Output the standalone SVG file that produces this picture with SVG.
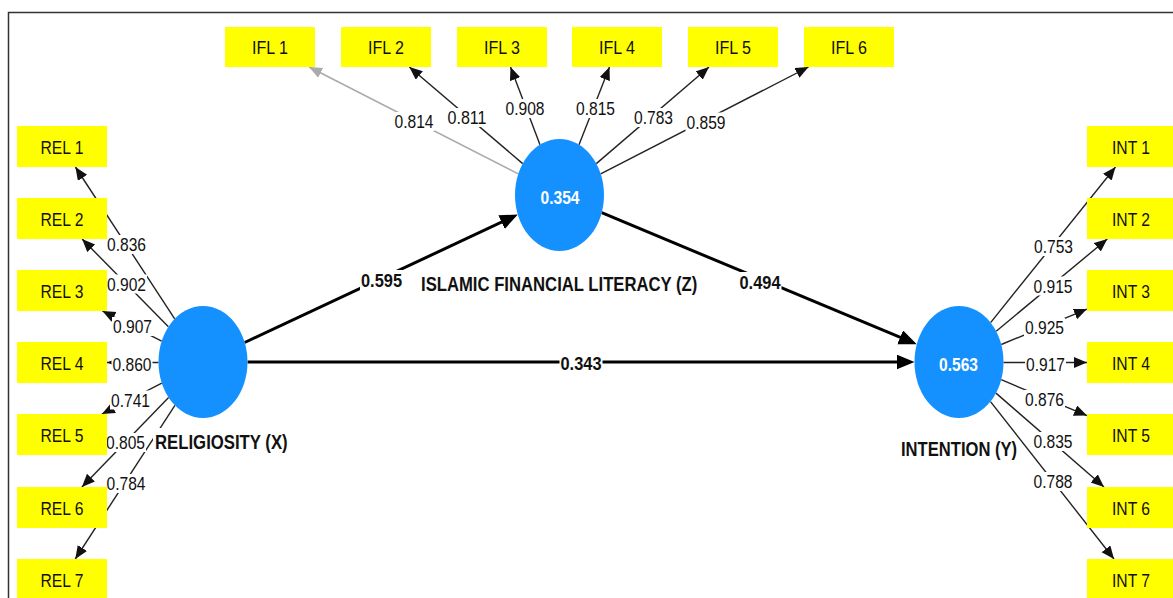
<svg xmlns="http://www.w3.org/2000/svg" width="1173" height="598" viewBox="0 0 1173 598">
<style>
text{font-family:"Liberation Sans",Arial,sans-serif;font-size:19px;fill:#111}
.box{fill:#ffff00}
.lat{fill:#1590ff}
.bt{text-anchor:middle}
.lv{text-anchor:middle;fill:#fff;font-weight:bold}
.cn{font-weight:bold;font-size:20px}
.ld{stroke:#222;stroke-width:1.4;fill:none;marker-end:url(#a)}
.ldg{stroke:#aaa;stroke-width:1.6;fill:none;marker-end:url(#ag)}
.pt{stroke:#000;stroke-width:3;fill:none;marker-end:url(#ab)}
.lb{text-anchor:middle}
.pl{text-anchor:middle;font-weight:bold}
.bg{fill:#fff}
</style>
<defs>
<marker id="a" markerUnits="userSpaceOnUse" markerWidth="14" markerHeight="12" refX="13" refY="5.5" orient="auto"><path d="M0,0 L13,5.5 L0,11 z" fill="#111"/></marker>
<marker id="ag" markerUnits="userSpaceOnUse" markerWidth="14" markerHeight="12" refX="13" refY="5.5" orient="auto"><path d="M0,0 L13,5.5 L0,11 z" fill="#aaa"/></marker>
<marker id="ab" markerUnits="userSpaceOnUse" markerWidth="20" markerHeight="16" refX="10" refY="7.5" orient="auto"><path d="M0,0 L18,7.5 L0,15 z" fill="#000"/></marker>
</defs>
<rect width="1173" height="598" fill="#fff"/>
<path d="M8.5,598 V12.5 H1173" fill="none" stroke="#333" stroke-width="1.5"/>

<g id="connectors">
<!-- REL loadings -->
<line class="ld" x1="174.7" y1="318.8" x2="75.4" y2="167"/>
<line class="ld" x1="168.4" y1="326.8" x2="82.1" y2="239"/>
<line class="ld" x1="161.7" y1="341.1" x2="102.4" y2="311"/>
<line class="ld" x1="158.5" y1="362.5" x2="107" y2="362.5"/>
<line class="ld" x1="161.8" y1="383.2" x2="101.9" y2="414"/>
<line class="ld" x1="168.6" y1="397.5" x2="81.9" y2="487"/>
<line class="ld" x1="174.9" y1="405.4" x2="75.3" y2="559"/>
<!-- IFL loadings -->
<line class="ldg" x1="518.3" y1="173.9" x2="309.1" y2="67"/>
<line class="ld" x1="522.7" y1="163.6" x2="409.4" y2="67"/>
<line class="ld" x1="540" y1="144.7" x2="510.5" y2="67"/>
<line class="ld" x1="579" y1="144.7" x2="609.5" y2="67"/>
<line class="ld" x1="596.3" y1="163.6" x2="709" y2="67"/>
<line class="ld" x1="600.7" y1="173.9" x2="808.5" y2="67"/>
<!-- INT loadings -->
<line class="ld" x1="990.6" y1="322.6" x2="1115.5" y2="167"/>
<line class="ld" x1="996.2" y1="331.2" x2="1107.3" y2="239"/>
<line class="ld" x1="1001.3" y1="344.5" x2="1087" y2="309.1"/>
<line class="ld" x1="1003.5" y1="362.5" x2="1087" y2="362.5"/>
<line class="ld" x1="1001.2" y1="379.7" x2="1087" y2="415.6"/>
<line class="ld" x1="996" y1="393.1" x2="1104" y2="487"/>
<line class="ld" x1="990.5" y1="401.6" x2="1114" y2="559"/>
<!-- structural paths -->
<line class="pt" x1="244.7" y1="342.5" x2="510.6" y2="217.9"/>
<line class="pt" x1="601.7" y1="212.7" x2="909.4" y2="341.2"/>
<line class="pt" x1="247.5" y1="362" x2="906.5" y2="362"/>
<!-- loading labels -->
<g>
<rect class="bg" x="106" y="235" width="41" height="19"/><text class="lb" x="126.5" y="251" textLength="39" lengthAdjust="spacingAndGlyphs">0.836</text>
<rect class="bg" x="106" y="274.5" width="41" height="19"/><text class="lb" x="126.5" y="290.5" textLength="39" lengthAdjust="spacingAndGlyphs">0.902</text>
<rect class="bg" x="112" y="317" width="41" height="19"/><text class="lb" x="132.5" y="333" textLength="39" lengthAdjust="spacingAndGlyphs">0.907</text>
<rect class="bg" x="111.5" y="354.5" width="41" height="19"/><text class="lb" x="132" y="370.5" textLength="39" lengthAdjust="spacingAndGlyphs">0.860</text>
<rect class="bg" x="110" y="390.5" width="41" height="19"/><text class="lb" x="130.5" y="406.5" textLength="39" lengthAdjust="spacingAndGlyphs">0.741</text>
<rect class="bg" x="105" y="433" width="41" height="19"/><text class="lb" x="125.5" y="449" textLength="39" lengthAdjust="spacingAndGlyphs">0.805</text>
<rect class="bg" x="105.5" y="474" width="41" height="19"/><text class="lb" x="126" y="490" textLength="39" lengthAdjust="spacingAndGlyphs">0.784</text>

<rect class="bg" x="393.5" y="112" width="41" height="19"/><text class="lb" x="414" y="128" textLength="39" lengthAdjust="spacingAndGlyphs">0.814</text>
<rect class="bg" x="446.5" y="108" width="41" height="19"/><text class="lb" x="467" y="124" textLength="39" lengthAdjust="spacingAndGlyphs">0.811</text>
<rect class="bg" x="504.5" y="99" width="41" height="19"/><text class="lb" x="525" y="115" textLength="39" lengthAdjust="spacingAndGlyphs">0.908</text>
<rect class="bg" x="575" y="99" width="41" height="19"/><text class="lb" x="595.5" y="115" textLength="39" lengthAdjust="spacingAndGlyphs">0.815</text>
<rect class="bg" x="633" y="108" width="41" height="19"/><text class="lb" x="653.5" y="124" textLength="39" lengthAdjust="spacingAndGlyphs">0.783</text>
<rect class="bg" x="685.5" y="112.5" width="41" height="19"/><text class="lb" x="706" y="128.5" textLength="39" lengthAdjust="spacingAndGlyphs">0.859</text>

<rect class="bg" x="1033" y="237" width="41" height="19"/><text class="lb" x="1053.5" y="253" textLength="39" lengthAdjust="spacingAndGlyphs">0.753</text>
<rect class="bg" x="1032.5" y="276.5" width="41" height="19"/><text class="lb" x="1053" y="292.5" textLength="39" lengthAdjust="spacingAndGlyphs">0.915</text>
<rect class="bg" x="1024" y="318" width="41" height="19"/><text class="lb" x="1044.5" y="334" textLength="39" lengthAdjust="spacingAndGlyphs">0.925</text>
<rect class="bg" x="1025" y="354.5" width="41" height="19"/><text class="lb" x="1045.5" y="370.5" textLength="39" lengthAdjust="spacingAndGlyphs">0.917</text>
<rect class="bg" x="1024" y="390" width="41" height="19"/><text class="lb" x="1044.5" y="406" textLength="39" lengthAdjust="spacingAndGlyphs">0.876</text>
<rect class="bg" x="1032.5" y="432" width="41" height="19"/><text class="lb" x="1053" y="448" textLength="39" lengthAdjust="spacingAndGlyphs">0.835</text>
<rect class="bg" x="1032.5" y="472" width="41" height="19"/><text class="lb" x="1053" y="488" textLength="39" lengthAdjust="spacingAndGlyphs">0.788</text>
</g>
<!-- path coefficient labels -->
<g>
<rect class="bg" x="360" y="270" width="43" height="20"/><text class="pl" x="381.5" y="287" textLength="41" lengthAdjust="spacingAndGlyphs">0.595</text>
<rect class="bg" x="738.5" y="272" width="43" height="20"/><text class="pl" x="760" y="289" textLength="41" lengthAdjust="spacingAndGlyphs">0.494</text>
<rect class="bg" x="559.5" y="352.5" width="43" height="20"/><text class="pl" x="581" y="369.5" textLength="41" lengthAdjust="spacingAndGlyphs">0.343</text>
</g>
</g>

<!-- latent constructs -->
<g id="religiosity">
<ellipse class="lat" cx="203" cy="362" rx="44.5" ry="56"/>
<rect class="bg" x="153" y="428" width="136" height="27"/>
<text class="cn" transform="translate(155,449) scale(0.837,1)">RELIGIOSITY (X)</text>
</g>
<g id="ifl">
<ellipse class="lat" cx="559.5" cy="195" rx="44.5" ry="56"/>
<text class="lv" x="560" y="204" textLength="39" lengthAdjust="spacingAndGlyphs">0.354</text>
<text class="cn" transform="translate(421,290.5) scale(0.834,1)">ISLAMIC FINANCIAL LITERACY (Z)</text>
</g>
<g id="intention">
<ellipse class="lat" cx="959" cy="362" rx="44.5" ry="56"/>
<text class="lv" x="958.5" y="370.5" textLength="39" lengthAdjust="spacingAndGlyphs">0.563</text>
<text class="cn" transform="translate(901,456) scale(0.83,1)">INTENTION (Y)</text>
</g>

<!-- REL indicators -->
<g id="rel1"><rect class="box" x="17" y="126" width="90" height="41"/><text class="bt" x="62" y="154.3" textLength="43" lengthAdjust="spacingAndGlyphs">REL 1</text></g>
<g id="rel2"><rect class="box" x="17" y="198" width="90" height="41"/><text class="bt" x="62" y="226.3" textLength="43" lengthAdjust="spacingAndGlyphs">REL 2</text></g>
<g id="rel3"><rect class="box" x="17" y="270" width="90" height="41"/><text class="bt" x="62" y="298.3" textLength="43" lengthAdjust="spacingAndGlyphs">REL 3</text></g>
<g id="rel4"><rect class="box" x="17" y="342" width="90" height="41"/><text class="bt" x="62" y="370.3" textLength="43" lengthAdjust="spacingAndGlyphs">REL 4</text></g>
<g id="rel5"><rect class="box" x="17" y="414" width="90" height="41"/><text class="bt" x="62" y="442.3" textLength="43" lengthAdjust="spacingAndGlyphs">REL 5</text></g>
<g id="rel6"><rect class="box" x="17" y="487" width="90" height="41"/><text class="bt" x="62" y="515.3" textLength="43" lengthAdjust="spacingAndGlyphs">REL 6</text></g>
<g id="rel7"><rect class="box" x="17" y="559" width="90" height="41"/><text class="bt" x="62" y="587" textLength="43" lengthAdjust="spacingAndGlyphs">REL 7</text></g>

<!-- IFL indicators -->
<g id="ifl1"><rect class="box" x="225" y="27" width="90" height="40"/><text class="bt" x="270" y="54.3" textLength="36" lengthAdjust="spacingAndGlyphs">IFL 1</text></g>
<g id="ifl2"><rect class="box" x="341" y="27" width="90" height="40"/><text class="bt" x="386" y="54.3" textLength="36" lengthAdjust="spacingAndGlyphs">IFL 2</text></g>
<g id="ifl3"><rect class="box" x="457" y="27" width="90" height="40"/><text class="bt" x="502" y="54.3" textLength="36" lengthAdjust="spacingAndGlyphs">IFL 3</text></g>
<g id="ifl4"><rect class="box" x="572" y="27" width="90" height="40"/><text class="bt" x="617" y="54.3" textLength="36" lengthAdjust="spacingAndGlyphs">IFL 4</text></g>
<g id="ifl5"><rect class="box" x="688" y="27" width="90" height="40"/><text class="bt" x="733" y="54.3" textLength="36" lengthAdjust="spacingAndGlyphs">IFL 5</text></g>
<g id="ifl6"><rect class="box" x="804" y="27" width="90" height="40"/><text class="bt" x="849" y="54.3" textLength="36" lengthAdjust="spacingAndGlyphs">IFL 6</text></g>

<!-- INT indicators -->
<g id="int1"><rect class="box" x="1087" y="126" width="90" height="41"/><text class="bt" x="1131" y="154.3" textLength="38" lengthAdjust="spacingAndGlyphs">INT 1</text></g>
<g id="int2"><rect class="box" x="1087" y="198" width="90" height="41"/><text class="bt" x="1131" y="226.3" textLength="38" lengthAdjust="spacingAndGlyphs">INT 2</text></g>
<g id="int3"><rect class="box" x="1087" y="270" width="90" height="41"/><text class="bt" x="1131" y="298.3" textLength="38" lengthAdjust="spacingAndGlyphs">INT 3</text></g>
<g id="int4"><rect class="box" x="1087" y="342" width="90" height="41"/><text class="bt" x="1131" y="370.3" textLength="38" lengthAdjust="spacingAndGlyphs">INT 4</text></g>
<g id="int5"><rect class="box" x="1087" y="414" width="90" height="41"/><text class="bt" x="1131" y="442.3" textLength="38" lengthAdjust="spacingAndGlyphs">INT 5</text></g>
<g id="int6"><rect class="box" x="1087" y="487" width="90" height="41"/><text class="bt" x="1131" y="515.3" textLength="38" lengthAdjust="spacingAndGlyphs">INT 6</text></g>
<g id="int7"><rect class="box" x="1087" y="559" width="90" height="41"/><text class="bt" x="1131" y="587" textLength="38" lengthAdjust="spacingAndGlyphs">INT 7</text></g>
</svg>
